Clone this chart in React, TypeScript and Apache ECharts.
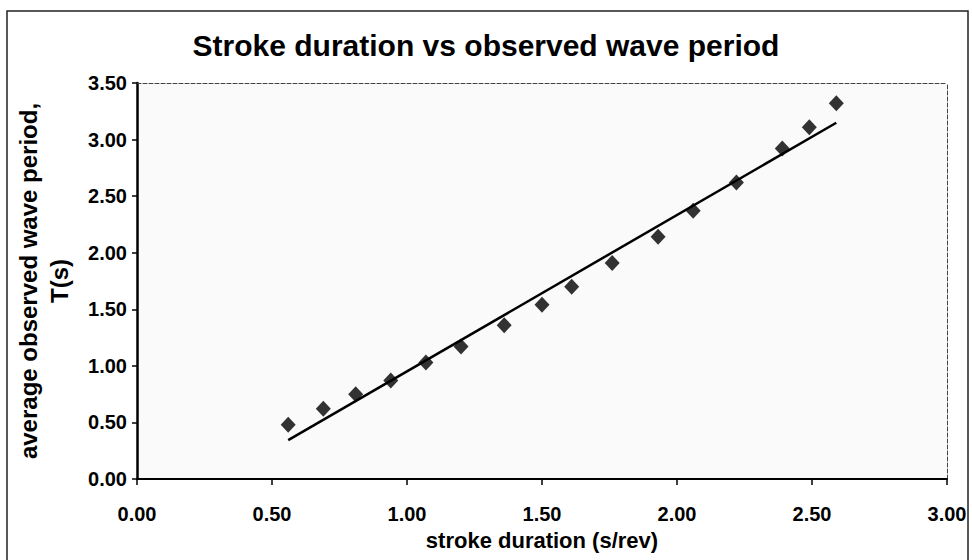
import React, { useEffect, useRef } from "react";
import * as echarts from "echarts";

const titleText = "Stroke duration vs observed wave period";
const xAxisTitle = "stroke duration (s/rev)";
const yAxisTitle = "average observed wave period,\nT(s)";

// stroke duration (s/rev)
const strokeDuration = [0.56, 0.69, 0.81, 0.94, 1.07, 1.2, 1.36, 1.5, 1.61, 1.76, 1.93, 2.06, 2.22, 2.39, 2.49, 2.59];
// average observed wave period T (s)
const wavePeriod = [0.48, 0.62, 0.75, 0.87, 1.03, 1.17, 1.36, 1.54, 1.7, 1.91, 2.14, 2.37, 2.62, 2.92, 3.11, 3.32];

const xMin = 0;
const xMax = 3;
const xStep = 0.5;
const yMin = 0;
const yMax = 3.5;
const yStep = 0.5;

// least-squares linear trendline through the observed points
function linearFit(xs: number[], ys: number[]) {
  const n = xs.length;
  const mx = xs.reduce((a, b) => a + b, 0) / n;
  const my = ys.reduce((a, b) => a + b, 0) / n;
  let sxy = 0;
  let sxx = 0;
  for (let i = 0; i < n; i++) {
    sxy += (xs[i] - mx) * (ys[i] - my);
    sxx += (xs[i] - mx) * (xs[i] - mx);
  }
  const slope = sxy / sxx;
  return { slope, intercept: my - slope * mx };
}

const FONT = "'Liberation Sans', Arial, sans-serif";

export default function App() {
  const ref = useRef<HTMLDivElement>(null);

  useEffect(() => {
    document.body.style.margin = "0";
    if (!ref.current) return;
    const chart = echarts.init(ref.current, null, { renderer: "svg" });

    const points = strokeDuration.map((x, i) => [x, wavePeriod[i]]);
    const fit = linearFit(strokeDuration, wavePeriod);
    const x0 = Math.min(...strokeDuration);
    const x1 = Math.max(...strokeDuration);
    const trend = [
      [x0, fit.intercept + fit.slope * x0],
      [x1, fit.intercept + fit.slope * x1],
    ];

    chart.setOption({
      animation: false,
      backgroundColor: "#ffffff",
      textStyle: { fontFamily: FONT, color: "#000" },
      title: {
        text: titleText,
        left: "center",
        top: 25,
        textStyle: { fontSize: 30, fontWeight: "bold", color: "#000", fontFamily: FONT },
      },
      graphic: [
        {
          type: "rect",
          shape: { x: 7, y: 11, width: 961, height: 580 },
          style: { fill: "none", stroke: "#222", lineWidth: 1.5 },
          silent: true,
        },
      ],
      grid: {
        left: 137,
        right: 25,
        top: 83,
        bottom: 81,
        show: true,
        backgroundColor: "#fafafa",
        borderWidth: 0,
      },
      xAxis: [
        {
          type: "value",
          min: xMin,
          max: xMax,
          interval: xStep,
          position: "bottom",
          name: xAxisTitle,
          nameLocation: "middle",
          nameGap: 50,
          nameTextStyle: { fontSize: 22, fontWeight: "bold", color: "#000", fontFamily: FONT },
          axisLine: { show: true, onZero: false, lineStyle: { color: "#000", width: 2 } },
          axisTick: { show: true, inside: false, length: 6, lineStyle: { color: "#000", width: 1.5 } },
          axisLabel: {
            fontSize: 20,
            fontWeight: "bold",
            color: "#000",
            margin: 25,
            formatter: (v: number) => v.toFixed(2),
          },
          splitLine: { show: false },
        },
        {
          type: "value",
          min: xMin,
          max: xMax,
          position: "top",
          axisLine: { show: true, onZero: false, lineStyle: { color: "#444", width: 1, type: "dashed" } },
          axisTick: { show: false },
          axisLabel: { show: false },
          splitLine: { show: false },
        },
      ],
      yAxis: [
        {
          type: "value",
          min: yMin,
          max: yMax,
          interval: yStep,
          position: "left",
          name: yAxisTitle,
          nameLocation: "middle",
          nameRotate: 90,
          nameGap: 62,
          nameTextStyle: {
            fontSize: 24,
            fontWeight: "bold",
            lineHeight: 31,
            color: "#000",
            fontFamily: FONT,
            align: "center",
          },
          axisLine: { show: true, onZero: false, lineStyle: { color: "#000", width: 2.5 } },
          axisTick: { show: true, inside: false, length: 5, lineStyle: { color: "#000", width: 1.5 } },
          axisLabel: {
            fontSize: 20,
            fontWeight: "bold",
            color: "#000",
            margin: 10,
            formatter: (v: number) => v.toFixed(2),
          },
          splitLine: { show: false },
        },
        {
          type: "value",
          min: yMin,
          max: yMax,
          position: "right",
          axisLine: { show: true, onZero: false, lineStyle: { color: "#444", width: 1, type: "dashed" } },
          axisTick: { show: false },
          axisLabel: { show: false },
          splitLine: { show: false },
        },
      ],
      series: [
        {
          name: "observed",
          type: "scatter",
          xAxisIndex: 0,
          yAxisIndex: 0,
          data: points,
          symbol: "diamond",
          symbolSize: [15, 16],
          itemStyle: { color: "#000" },
          z: 3,
        },
        {
          name: "trend",
          type: "line",
          xAxisIndex: 0,
          yAxisIndex: 0,
          data: trend,
          showSymbol: false,
          symbol: "none",
          lineStyle: { color: "#000", width: 2.5 },
          z: 2,
        },
      ],
    });

    return () => chart.dispose();
  }, []);

  return <div ref={ref} style={{ width: 972, height: 560 }} />;
}
